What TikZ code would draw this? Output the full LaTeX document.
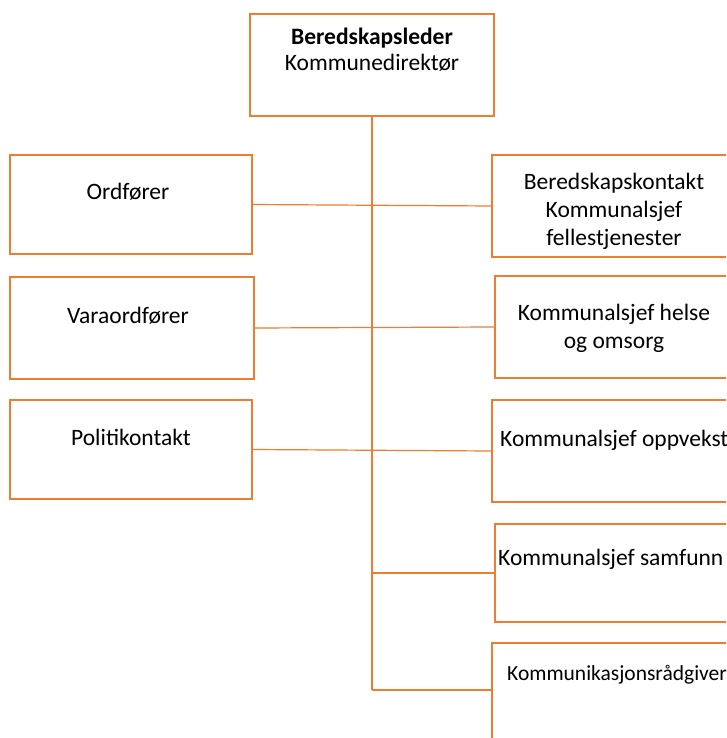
\documentclass[tikz,border=0pt]{standalone}
\usepackage{fontspec}
\setmainfont{Carlito}
\definecolor{orgorange}{RGB}{237,125,49}
\begin{document}
\begin{tikzpicture}[x=1pt, y=-1pt,
  boks/.style={draw=orgorange, line width=1.5pt, rectangle, inner sep=0pt},
  tekst/.style={font=\fontsize{23.5}{28}\selectfont, align=center, inner sep=0pt},
  linje/.style={draw=orgorange, line width=1.2pt}]
\useasboundingbox (0,0) rectangle (726,738);
\clip (0,0) rectangle (726,738);

% Boxes
\node[boks, minimum width=244pt, minimum height=102pt] (leder) at (372,65) {};
\node[boks, minimum width=242pt, minimum height=99pt] (ord) at (131,204.5) {};
\node[boks, minimum width=244pt, minimum height=102pt] (vara) at (132,328) {};
\node[boks, minimum width=242pt, minimum height=99pt] (politi) at (131,449.5) {};
\node[boks, minimum width=270pt, minimum height=102pt, anchor=west] (beredskap) at (491,206) {};
\node[boks, minimum width=270pt, minimum height=102pt, anchor=west] (helse) at (494,327) {};
\node[boks, minimum width=270pt, minimum height=102pt, anchor=west] (oppvekst) at (491,451) {};
\node[boks, minimum width=270pt, minimum height=98pt, anchor=west] (samfunn) at (494,573) {};
\node[boks, minimum width=270pt, minimum height=130pt, anchor=west] (komm) at (491,708) {};

% Texts
\node[tekst, font=\fontsize{23.5}{26}\selectfont] (lederT) at (372,49.5) {\textbf{Beredskapsleder}\\Kommunedirektør};
\node[tekst, anchor=base] (ordT) at (128,199.5) {Ordfører};
\node[tekst, anchor=base] (varaT) at (128,323.5) {Varaordfører};
\node[tekst, anchor=base] (politiT) at (131,445.5) {Politikontakt};
\node[tekst] (beredskapT) at (614,211) {Beredskapskontakt\\Kommunalsjef\\fellestjenester};
\node[tekst] (helseT) at (614,328.5) {Kommunalsjef helse\\og omsorg};
\node[tekst, anchor=base west] (oppvekstT) at (500,446.5) {Kommunalsjef oppvekst};
\node[tekst, anchor=base west] (samfunnT) at (498,565.5) {Kommunalsjef samfunn};
\node[tekst, anchor=base west, font=\fontsize{21.5}{25}\selectfont] (kommT) at (507,680.5) {Kommunikasjonsrådgiver};

% Lines
\coordinate (bunn) at (372,690);
\draw[linje] (leder.south) -- (bunn);
\draw[linje] (ord.east) -- (beredskap.west);
\draw[linje] (vara.east) -- (helse.west);
\draw[linje] (politi.east) -- (oppvekst.west);
\draw[linje] (bunn |- samfunn.west) -- (samfunn.west);
\draw[linje] (bunn) -- (bunn -| komm.west);

\end{tikzpicture}
\end{document}
